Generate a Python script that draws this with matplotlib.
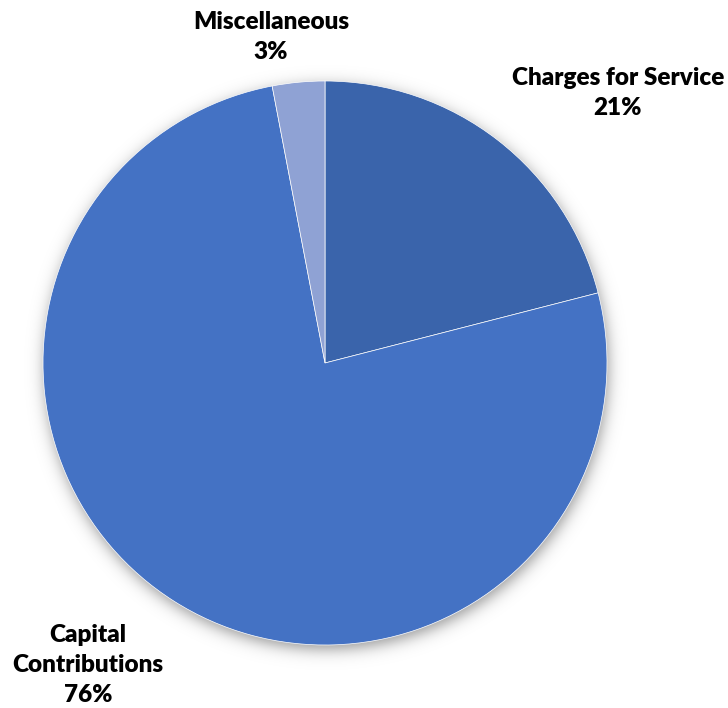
import numpy as np
import matplotlib
matplotlib.use("Agg")
import matplotlib.pyplot as plt

categories = ["Charges for Service", "Capital Contributions", "Miscellaneous"]
shares = [21, 76, 3]
label_lines = ["Charges for Service\n21%", "Capital\nContributions\n76%", "Miscellaneous\n3%"]
colors = ["#3A64AB", "#4472C4", "#8FA2D4"]

W, H = 728, 708
fig = plt.figure(figsize=(W / 100, H / 100), dpi=100)
ax = fig.add_axes([0, 0, 1, 1])

cx, cy, r = 325, H - 363, 282

# soft drop shadow under the pie
yy, xx = np.mgrid[0:H, 0:W]
d = np.hypot(xx - (cx + 1), (H - 1 - yy) - (cy - 5)) - r
alpha = 0.4 / (1 + np.exp(d / 4.5))
shadow = np.zeros((H, W, 4))
shadow[..., 3] = alpha
ax.imshow(shadow, extent=(0, W, 0, H), origin="upper", zorder=0, interpolation="bilinear")

ax.pie(shares, colors=colors, startangle=90, counterclock=False,
       center=(cx, cy), radius=r, frame=True,
       wedgeprops=dict(linewidth=0.5, edgecolor="white"))

font = dict(family=["Lato", "DejaVu Sans"], fontweight="heavy", fontsize=17.5, color="black",
            ha="center", va="center", linespacing=1.45)
ax.text(618, H - 93, label_lines[0], **font)
ax.text(88, H - 665, label_lines[1], **font)
ax.text(271, H - 37, label_lines[2], **font)

ax.set_xlim(0, W)
ax.set_ylim(0, H)
ax.set_aspect("auto")
ax.axis("off")
fig.savefig("out.png", dpi=100)
